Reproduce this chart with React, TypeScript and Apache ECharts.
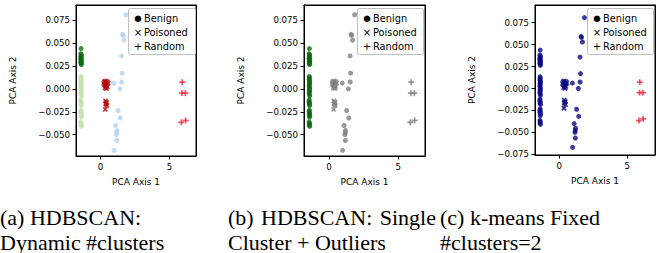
import React, { useEffect, useRef } from "react";
import * as echarts from "echarts";

// Benign cluster (dark green in panel a)
const benignA: [number, number][] = [
  [-1.41, 0.0438], [-1.43, 0.0382], [-1.39, 0.0368], [-1.42, 0.0355], [-1.4, 0.0342],
  [-1.44, 0.0331], [-1.41, 0.032], [-1.38, 0.0309], [-1.43, 0.0298], [-1.4, 0.0287],
  [-1.42, 0.0276], [-1.39, 0.0265],
];
// Benign cluster (light green in panel a)
const benignB: [number, number][] = [
  [-1.42, 0.0135], [-1.4, 0.0118], [-1.43, 0.0102], [-1.41, 0.0088], [-1.39, 0.0074],
  [-1.42, 0.006], [-1.4, 0.0046], [-1.43, 0.0031], [-1.41, 0.0016], [-1.39, 0.0002],
  [-1.42, -0.0013], [-1.4, -0.0028], [-1.43, -0.0044], [-1.41, -0.006], [-1.39, -0.0078],
  [-1.42, -0.012], [-1.44, -0.0138], [-1.4, -0.0152], [-1.42, -0.0168], [-1.39, -0.0182],
  [-1.41, -0.0232], [-1.43, -0.0248], [-1.4, -0.0262], [-1.42, -0.0276], [-1.38, -0.0291],
  [-1.41, -0.031], [-1.43, -0.0362], [-1.4, -0.0378], [-1.42, -0.0392], [-1.39, -0.0408],
];
// Benign cluster (light blue in panel a)
const benignC: [number, number][] = [
  [1.85, 0.0807], [1.6, 0.0593], [1.63, 0.0582], [1.7, 0.053], [1.52, 0.0358],
  [1.56, 0.017], [1.53, 0.0074], [0.96, 0.0062], [1.4, 0.0], [1.27, -0.0236],
  [1.43, -0.0318], [1.09, -0.04], [1.19, -0.0452], [1.17, -0.0478], [1.15, -0.05],
  [1.18, -0.0563], [0.98, -0.067],
];
const poisoned: [number, number][] = [
  [0.24, 0.0058], [0.3, 0.0042], [0.34, 0.0071], [0.39, 0.003], [0.44, 0.0052],
  [0.5, 0.0078], [0.55, 0.0062], [0.32, 0.0012], [0.42, 0.0004], [0.28, 0.0076],
  [0.48, 0.0022], [0.37, 0.0086], [0.36, -0.0132], [0.43, -0.0148], [0.38, -0.0166],
  [0.45, -0.0182], [0.4, -0.0158], [0.34, -0.0224],
];
const randomPts: [number, number][] = [
  [5.92, 0.0072], [5.9, -0.0047], [6.15, -0.0047], [5.86, -0.0365], [6.17, -0.0345],
];

const legendNames = ["Benign", "Poisoned", "Random"];
const legendGlyphs = ["\u25CF", "\u00D7", "+"];
const xTicks = [0, 5];
const yTicksAB = [-0.05, -0.025, 0, 0.025, 0.05, 0.075];
const yTicksC = [-0.075, -0.05, -0.025, 0, 0.025, 0.05, 0.075];

const captionLine1 = ["(a) HDBSCAN:", "(b)", "HDBSCAN:", "Single", "(c) k-means Fixed"];
const captionLine2 = ["Dynamic", "#clusters", "Cluster + Outliers", "#clusters=2"];

// panel colours: [A, B, C, poisoned, random]
const panelColors = [
  ["#0b6a0b", "#c4e1b2", "#b5d2ee", "#b41010", "#f02a3c"],
  ["#0b6a0b", "#0b6a0b", "#808080", "#808080", "#808080"],
  ["#0a0a84", "#0a0a84", "#0a0a84", "#0a0a84", "#f02a3c"],
];

const FONT = "DejaVu Sans";
const SERIF = "Liberation Serif";

function fmtY(v: number) {
  const a = Math.abs(v).toFixed(3);
  return v < -1e-9 ? "\u2212" + a : a;
}

export default function App() {
  const ref = useRef<HTMLDivElement>(null);
  useEffect(() => {
    if (!ref.current) return;
    const chart = echarts.init(ref.current, undefined, { renderer: "svg" });

    const grids = [
      { left: 76, top: 5, width: 120, height: 151 },
      { left: 304, top: 5, width: 121, height: 151 },
      { left: 535, top: 5, width: 120, height: 150 },
    ];
    const xRanges = [
      [-1.78, 6.92],
      [-1.8, 6.92],
      [-1.79, 7.04],
    ];
    const yRanges = [
      [-0.0732, 0.0913],
      [-0.0732, 0.0913],
      [-0.0757, 0.0951],
    ];
    const yTickSets = [yTicksAB, yTicksAB, yTicksC];
    const legendBoxes = [
      { x: 128, y: 8, w: 68, h: 47 },
      { x: 357, y: 8, w: 67, h: 47 },
      { x: 587, y: 8, w: 67, h: 47 },
    ];

    const nameStyle = { fontFamily: FONT, fontSize: 9, color: "#000" };
    const tick = { show: true, inside: false, length: 3.5, lineStyle: { color: "#000", width: 1 } };

    const xAxis: any[] = [];
    const yAxis: any[] = [];
    grids.forEach((_, i) => {
      xAxis.push({
        type: "value",
        gridIndex: i,
        min: xRanges[i][0],
        max: xRanges[i][1],
        name: "PCA Axis 1",
        nameLocation: "middle",
        nameGap: 21,
        nameTextStyle: nameStyle,
        axisLine: { show: true, onZero: false, lineStyle: { color: "#000", width: 1 } },
        splitLine: { show: false },
        axisTick: { ...tick, customValues: xTicks },
        axisLabel: { customValues: xTicks, fontFamily: FONT, fontSize: 8.6, color: "#000", margin: 6 },
      });
      yAxis.push({
        type: "value",
        gridIndex: i,
        min: yRanges[i][0],
        max: yRanges[i][1],
        name: "PCA Axis 2",
        nameLocation: "middle",
        nameGap: 59,
        nameTextStyle: nameStyle,
        axisLine: { show: true, onZero: false, lineStyle: { color: "#000", width: 1 } },
        splitLine: { show: false },
        axisTick: { ...tick, customValues: yTickSets[i] },
        axisLabel: {
          customValues: yTickSets[i],
          formatter: (v: number) => fmtY(v),
          fontFamily: FONT,
          fontSize: 8.6,
          color: "#000",
          margin: 6,
        },
      });
    });
    // top and right spines as label-less axes
    grids.forEach((_, i) => {
      xAxis.push({
        type: "value",
        gridIndex: i,
        position: "top",
        min: xRanges[i][0],
        max: xRanges[i][1],
        axisLine: { show: true, onZero: false, lineStyle: { color: "#000", width: 1 } },
        axisTick: { show: false },
        axisLabel: { show: false },
        splitLine: { show: false },
      });
      yAxis.push({
        type: "value",
        gridIndex: i,
        position: "right",
        min: yRanges[i][0],
        max: yRanges[i][1],
        axisLine: { show: true, onZero: false, lineStyle: { color: "#000", width: 1 } },
        axisTick: { show: false },
        axisLabel: { show: false },
        splitLine: { show: false },
      });
    });

    const series: any[] = [];
    const sc = (p: number, extra: any) => ({
      type: "scatter",
      xAxisIndex: p,
      yAxisIndex: p,
      silent: true,
      ...extra,
    });

    grids.forEach((g, p) => {
      const c = panelColors[p];
      series.push(sc(p, { data: benignB, symbol: "circle", symbolSize: 5, itemStyle: { color: c[1] } }));
      series.push(sc(p, { data: benignA, symbol: "circle", symbolSize: 5, itemStyle: { color: c[0] } }));
      series.push(sc(p, { data: benignC, symbol: "circle", symbolSize: 5, itemStyle: { color: c[2] } }));
      [45, -45].forEach((r) =>
        series.push(sc(p, { data: poisoned, symbol: "rect", symbolSize: [6, 1.7], symbolRotate: r, itemStyle: { color: c[3] } }))
      );
      [0, 90].forEach((r) =>
        series.push(sc(p, { data: randomPts, symbol: "rect", symbolSize: [6, 1.7], symbolRotate: r, itemStyle: { color: c[4] } }))
      );
    });

    const capFont = { fontFamily: SERIF, fontSize: 22, fill: "#000" };
    const y1c = 217;
    const y2c = 242;
    const graphic: any[] = [];
    legendBoxes.forEach((b) => {
      graphic.push({
        type: "rect",
        z: 50,
        shape: { x: b.x + 0.5, y: b.y + 0.5, width: b.w - 1, height: b.h - 1, r: 2 },
        style: { fill: "white", stroke: "silver", lineWidth: 1 },
      });
      legendNames.forEach((nm, k) => {
        const cy = b.y + 10 + k * 14.3;
        graphic.push({
          type: "text", z: 60, x: b.x + 10, y: cy,
          style: { text: legendGlyphs[k], fontFamily: FONT, fontSize: k === 0 ? 8.5 : 10, fill: "#000", align: "center", verticalAlign: "middle" },
        });
        graphic.push({
          type: "text", z: 60, x: b.x + 16, y: cy,
          style: { text: nm, fontFamily: FONT, fontSize: 9.8, fill: "#000", verticalAlign: "middle" },
        });
      });
    });
    graphic.push(
      { type: "text", x: 0, y: y1c, style: { ...capFont, text: captionLine1[0], verticalAlign: "middle" } },
      { type: "text", x: 228, y: y1c, style: { ...capFont, text: captionLine1[1], verticalAlign: "middle" } },
      { type: "text", x: 261, y: y1c, style: { ...capFont, text: captionLine1[2], verticalAlign: "middle" } },
      { type: "text", x: 436, y: y1c, style: { ...capFont, text: captionLine1[3], align: "right", verticalAlign: "middle" } },
      { type: "text", x: 440, y: y1c, style: { ...capFont, text: captionLine1[4], verticalAlign: "middle" } },
      { type: "text", x: 0, y: y2c, style: { ...capFont, text: captionLine2[0], verticalAlign: "middle" } },
      { type: "text", x: 86, y: y2c, style: { ...capFont, text: captionLine2[1], verticalAlign: "middle" } },
      { type: "text", x: 228, y: y2c, style: { ...capFont, text: captionLine2[2], verticalAlign: "middle" } },
      { type: "text", x: 440, y: y2c, style: { ...capFont, text: captionLine2[3], verticalAlign: "middle" } }
    );

    chart.setOption({
      animation: false,
      backgroundColor: "#fff",
      grid: grids.map((g) => ({ ...g, show: true, borderColor: "black", borderWidth: 1 })),
      xAxis,
      yAxis,
      series,
      graphic,
    } as any);
    return () => chart.dispose();
  }, []);
  return (
    <div
      ref={ref}
      style={{ position: "absolute", left: 0, top: 0, width: 665, height: 253 }}
    />
  );
}
